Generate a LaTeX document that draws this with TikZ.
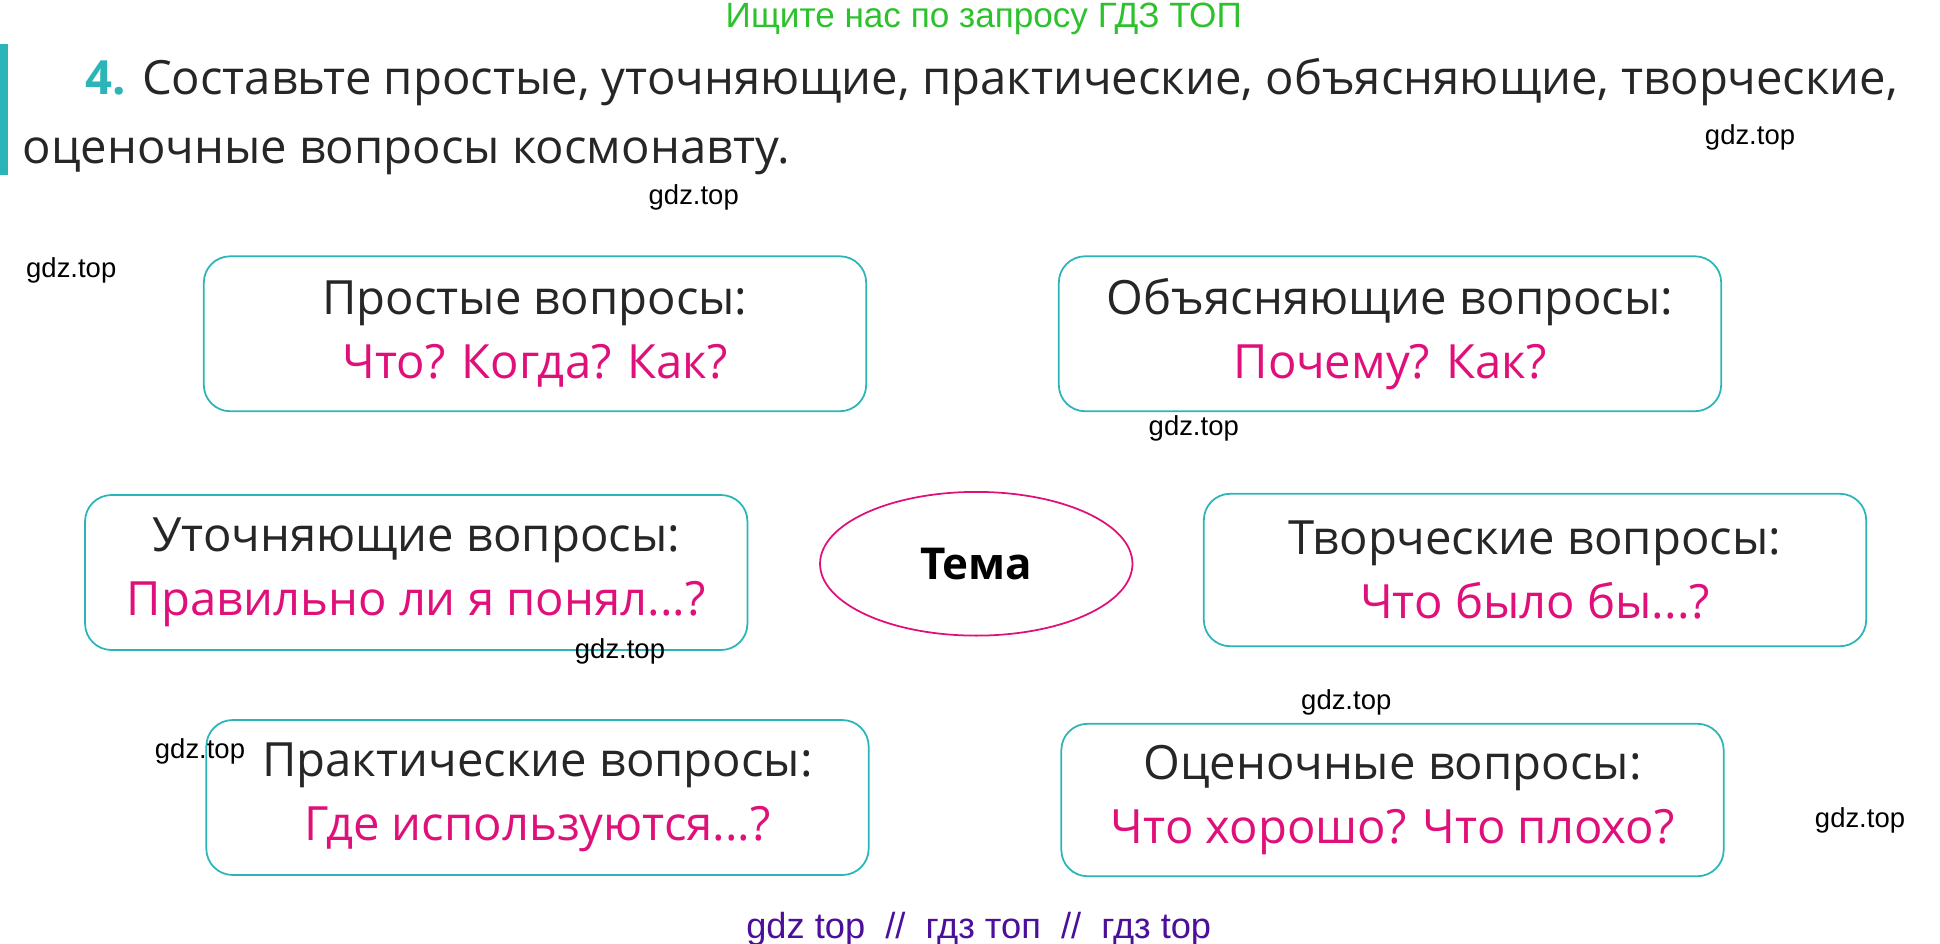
\documentclass[tikz,border=0pt]{standalone}
\usepackage{fontspec}
\setmainfont{Open Sans}
\newfontfamily\wmfont{Liberation Sans}
\usetikzlibrary{shapes.geometric}
\definecolor{tealc}{HTML}{2BB5B8}
\definecolor{magc}{HTML}{E0107A}
\definecolor{greenc}{HTML}{2DC22D}
\definecolor{purpc}{HTML}{4B0F9A}
\tikzset{
  qbox/.style={rectangle, rounded corners=12pt, draw=tealc, thick, minimum width=10.6cm, minimum height=2.48cm, align=center, font=\fontsize{21.5}{29}\selectfont, text=black!85},
  wm/.style={font=\wmfont\fontsize{12.5}{14}\selectfont, text=black},
  heading/.style={font=\fontsize{21.5}{34}\selectfont, text=black!85, anchor=west}
}
\newcommand{\qa}[1]{\textcolor{magc}{#1}}
\begin{document}
\begin{tikzpicture}[x=0.02cm,y=-0.02cm]
\useasboundingbox (0,0) rectangle (1552,755);
% heading
\node[font=\wmfont\fontsize{16}{18}\selectfont, text=greenc] (top) at (787,15) {Ищите нас по запросу ГДЗ ТОП};
\fill[tealc] (0,35) rectangle (6,140);
\node[heading] (task1) at (62,66) {\textcolor{tealc}{\textbf{4.}} Составьте простые, уточняющие, практические, объясняющие, творческие,};
\node[heading] (task2) at (12,125) {оценочные вопросы космонавту.};
% boxes
\node[qbox] (simple) at (428,267) {Простые вопросы:\\ \qa{Что? Когда? Как?}};
\node[qbox] (explain) at (1112,267) {Объясняющие вопросы:\\ \qa{Почему? Как?}};
\node[qbox] (clarify) at (333,458) {Уточняющие вопросы:\\ \qa{Правильно ли я понял...?}};
\node[qbox, minimum height=2.44cm] (creative) at (1228,456) {Творческие вопросы:\\ \qa{Что было бы...?}};
\node[qbox] (practice) at (430,638) {Практические вопросы:\\ \qa{Где используются...?}};
\node[qbox, minimum height=2.44cm] (rate) at (1114,640) {Оценочные вопросы:\\ \qa{Что хорошо? Что плохо?}};
\node[ellipse, draw=magc, thick, minimum width=5.0cm, minimum height=2.3cm, font=\bfseries\fontsize{20}{24}\selectfont] (theme) at (781,451) {Тема};
% watermarks
\node[wm] (w1) at (1400,110) {gdz.top};
\node[wm] (w2) at (555,158) {gdz.top};
\node[wm] (w3) at (57,216) {gdz.top};
\node[wm] (w4) at (955,343) {gdz.top};
\node[wm] (w5) at (496,521) {gdz.top};
\node[wm] (w6) at (1077,562) {gdz.top};
\node[wm] (w7) at (160,601) {gdz.top};
\node[wm] (w8) at (1488,656) {gdz.top};
\node[font=\wmfont\fontsize{16.5}{18}\selectfont, text=purpc] (bottom) at (783,743) {gdz top \ // \ гдз топ \ // \ гдз top};
\end{tikzpicture}
\end{document}
